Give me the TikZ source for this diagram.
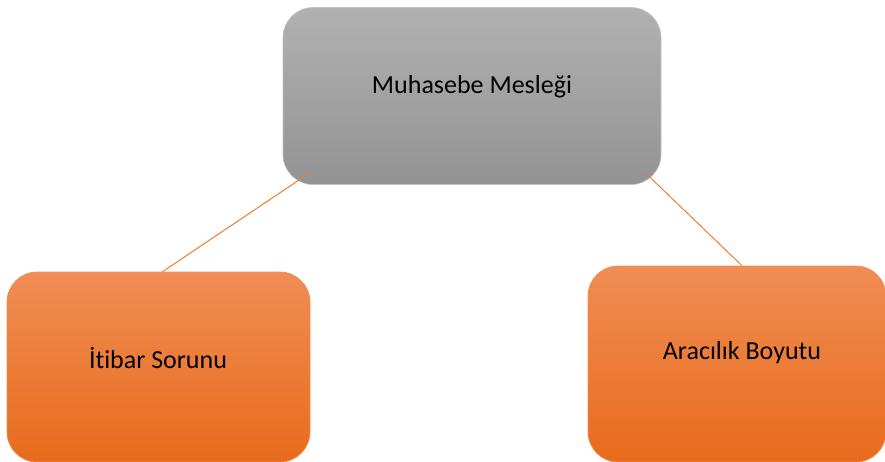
\documentclass[tikz,border=0pt]{standalone}
\usepackage{fontspec}
\setmainfont{Carlito}[Ligatures=NoCommon]
\usepackage{tikz}
\usetikzlibrary{positioning,calc}
\definecolor{grtop}{HTML}{B1B1B1}
\definecolor{grbot}{HTML}{939393}
\definecolor{ortop}{HTML}{F08D55}
\definecolor{orbot}{HTML}{E86B1B}
\definecolor{orline}{HTML}{ED7D31}

\tikzset{
  kutu/.style={rounded corners=30pt,inner sep=0pt},
  gri/.style={kutu,top color=grtop,bottom color=grbot,draw=grtop!80!white,line width=0.6pt},
  turuncu/.style={kutu,top color=ortop,bottom color=orbot,draw=ortop,line width=0.6pt},
  yazi/.style={font=\fontsize{26}{31}\selectfont,text=black,inner sep=0pt},
  bag/.style={draw=orline,line width=1pt}
}

\begin{document}
\begin{tikzpicture}[x=1pt,y=-1pt]
			\useasboundingbox (0,0) rectangle (885,461);
			\node[gri,minimum width=378pt,minimum height=177pt] (mslk) at (472,96) {};
			\node[turuncu,minimum width=303pt,minimum height=190pt] (itibar) at (158.5,367) {};
			\node[turuncu,minimum width=298pt,minimum height=196pt] (aracilik) at (737,364) {};
			\node[yazi] (mslkYazi) at (472,87) {Muhasebe Mesleği};
			\node[yazi] (itibarYazi) at (158,358) {İtibar Sorunu};
			\node[yazi] (aracilikYazi) at (742,353) {Aracılık Boyutu};
			\coordinate (m1) at ([shift={(27,-12)}]mslk.south west);
			\coordinate (m2) at ([shift={(-16,-12)}]mslk.south east);
			\draw[bag] (m1) -- ([xshift=4pt]itibar.north);
			\draw[bag] (m2) -- ([xshift=5pt]aracilik.north);
		\end{tikzpicture}
\end{document}
